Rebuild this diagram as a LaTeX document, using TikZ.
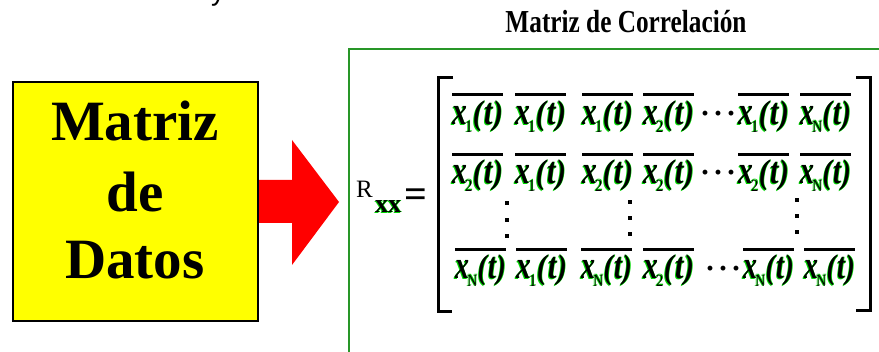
\documentclass[tikz,border=0pt]{standalone}
\usepackage{fontspec}
\usepackage{graphicx}
\setmainfont{Liberation Serif}
\newfontfamily\sansy{Liberation Sans}
\definecolor{fringe}{RGB}{0,215,0}
\definecolor{framegreen}{RGB}{40,150,40}
\definecolor{boxyellow}{RGB}{255,255,0}
\definecolor{arrowred}{RGB}{255,0,0}
\newcommand\glowtxt[1]{\leavevmode\rlap{\textcolor{fringe}{\kern-0.9pt\raisebox{-0.7pt}{#1}}}\rlap{\textcolor{fringe}{\kern0.6pt\raisebox{0.7pt}{#1}}}#1}
\newcommand\facbody[1]{\fontsize{34}{34}\selectfont\bfseries\itshape \scalebox{1}[1.15]{x}\kern-2pt\raisebox{-7pt}{\fontsize{17}{17}\selectfont\upshape\mdseries #1}\kern0.5pt(\kern1.5pt \scalebox{1}[1.1]{t}\kern1pt)}
\newcommand\fac[1]{\glowtxt{\resizebox*{51pt}{31pt}{\facbody{#1}}}}
\tikzset{
  facnode/.style={anchor=base west, inner sep=0pt, outer sep=0pt},
  ovl/.style={line width=3pt, black},
  bigtxt/.style={anchor=base, inner sep=0pt},
  dotsnode/.style={anchor=base west, inner sep=0pt},
  brk/.style={line width=3pt, black, line join=miter},
}
\newcommand\bigfont{\bfseries\fontsize{57}{57}\selectfont}
\newcommand\dotsfont{\bfseries\fontsize{30}{30}\selectfont}
\begin{document}
\begin{tikzpicture}[x=1pt,y=-1pt]
\useasboundingbox (0,0) rectangle (879,352);
\fill[white] (0,0) rectangle (879,352);
% cut-off fragment at top
\node[anchor=base, inner sep=0pt] (yfrag) at (218,0.5) {\sansy\fontsize{28}{28}\selectfont y};
% data box
\node[draw=black, line width=2pt, fill=boxyellow, minimum width=245pt, minimum height=239pt, anchor=north west, inner sep=0pt] (datos) at (12,81) {};
\node[bigtxt] (t1) at (135,141) {\bigfont Matriz};
\node[bigtxt] (t2) at (135,212) {\bigfont de};
\node[bigtxt] (t3) at (135,279) {\bigfont Datos};
% big red arrow
\fill[arrowred] (datos.east |- 0,180) -- (292,180) -- (292,140) -- (339,202) -- (292,265) -- (292,223) -- (datos.east |- 0,223) -- cycle;
% frame
\draw[framegreen, line width=1.3pt] (349,360) -- (349,49) -- (885,49);
\node[anchor=base, inner sep=0pt] (title) at (626,33) {\bfseries\fontsize{32}{32}\selectfont\scalebox{0.79}[1]{Matriz de Correlación}};
% R_xx =
\node[anchor=base west, inner sep=0pt] (R) at (356,198) {\fontsize{25}{25}\selectfont R};
\node[anchor=base west, inner sep=0pt] (xx) at (375,213) {\bfseries\fontsize{26}{26}\selectfont\glowtxt{xx}};
\node[anchor=base west, inner sep=0pt] (eq) at (404,208) {\bfseries\fontsize{40}{40}\selectfont =};
% brackets
\draw[brk] (453,78) -- (438,78) -- (438,312) -- (452,312);
\draw[brk] (856,78) -- (870,78) -- (870,311) -- (856,311);
% overline reference heights
\coordinate (ov1) at (0,95);
\coordinate (ov2) at (0,155);
\coordinate (ov4) at (0,250);
% entries
\foreach \r/\bl/\lst in {1/125/{452/1,515/1,582/1,643/2,738/1,800/N},
                          2/184/{452/2,515/1,582/2,643/2,738/2,800/N},
                          4/279/{455/N,516/1,581/N,643/2,743/N,804/N}}{
  \foreach \x/\s in \lst {
    \node[facnode] (f\r-\x) at (\x,\bl) {\fac{\s}};
    \draw[ovl] (f\r-\x.west |- ov\r) -- (f\r-\x.east |- ov\r);
  }
}
% horizontal dots
\node[dotsnode] (d1) at (700,124) {\dotsfont ·\kern3pt·\kern3pt·};
\node[dotsnode] (d2) at (700,183) {\dotsfont ·\kern3pt·\kern3pt·};
\node[dotsnode] (d4) at (705,279) {\dotsfont ·\kern3pt·\kern3pt·};
% vertical dots
\foreach \vx/\ya/\yb/\yc in {507/203/220/236, 630/202/218/234, 797/200/216/232}{
  \foreach \vy in {\ya,\yb,\yc}{
    \fill[black] (\vx-2,\vy-2) rectangle (\vx+2,\vy+2);
  }
}
\end{tikzpicture}
\end{document}
